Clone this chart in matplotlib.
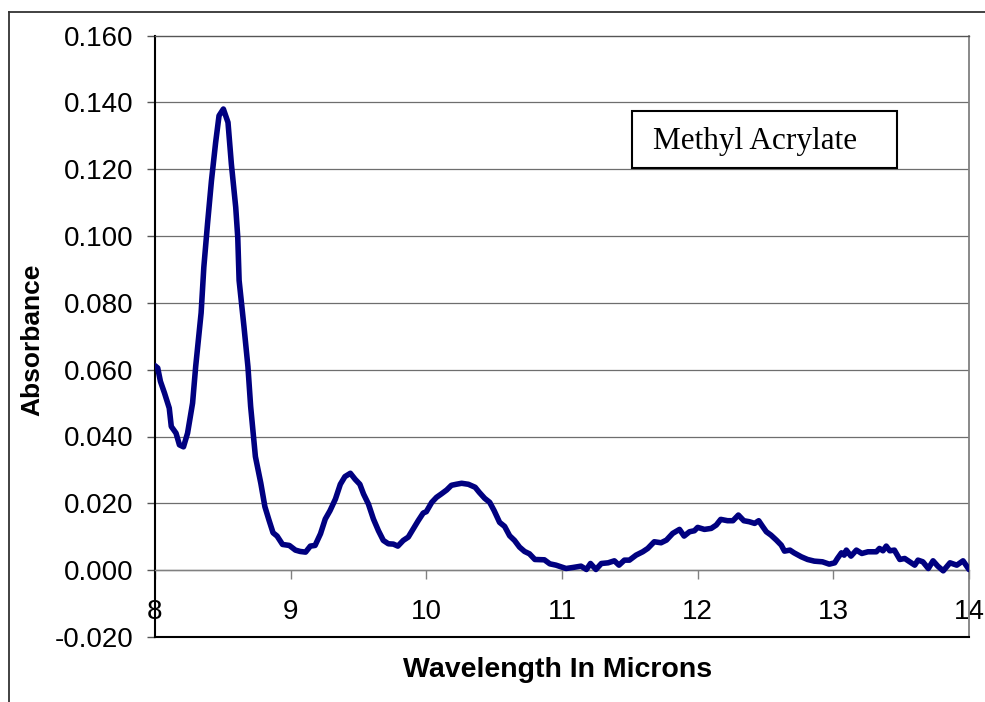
import matplotlib
matplotlib.use("Agg")
import matplotlib.pyplot as plt
from matplotlib.lines import Line2D
from matplotlib.patches import Rectangle

wavelength = [8.00, 8.02, 8.04, 8.07, 8.105, 8.12, 8.155, 8.18, 8.21, 8.24, 8.277, 8.30,
              8.34, 8.36, 8.387, 8.416, 8.447, 8.472, 8.504, 8.538, 8.563, 8.595, 8.61,
              8.62, 8.656, 8.685, 8.705, 8.74, 8.78, 8.81, 8.84, 8.87, 8.90, 8.94, 8.99,
              9.035, 9.07, 9.11, 9.145, 9.18, 9.22, 9.255, 9.29, 9.33, 9.366, 9.40, 9.44,
              9.475, 9.51, 9.537, 9.573, 9.61, 9.647, 9.683, 9.72, 9.757, 9.79, 9.83,
              9.867, 9.904, 9.94, 9.977, 10.0, 10.04, 10.075, 10.11, 10.15, 10.185,
              10.22, 10.26, 10.31, 10.36, 10.39, 10.43, 10.467, 10.50, 10.54, 10.577,
              10.614, 10.65, 10.687, 10.724, 10.76, 10.80, 10.87, 10.91, 10.956, 11.03,
              11.08, 11.14, 11.18, 11.21, 11.25, 11.29, 11.34, 11.386, 11.42, 11.46,
              11.497, 11.546, 11.595, 11.632, 11.68, 11.73, 11.77, 11.816, 11.866, 11.90,
              11.94, 11.976, 12.0, 12.05, 12.10, 12.137, 12.17, 12.22, 12.26, 12.30,
              12.34, 12.38, 12.42, 12.45, 12.48, 12.506, 12.54, 12.58, 12.616, 12.64,
              12.68, 12.71, 12.764, 12.81, 12.86, 12.92, 12.97, 13.01, 13.03, 13.06,
              13.08, 13.096, 13.13, 13.17, 13.21, 13.255, 13.317, 13.34, 13.366, 13.39,
              13.416, 13.45, 13.49, 13.526, 13.563, 13.60, 13.624, 13.66, 13.70, 13.735,
              13.77, 13.81, 13.86, 13.91, 13.956, 14.0]

absorbance = [0.0612, 0.0605, 0.0565, 0.0530, 0.0485, 0.0430, 0.0410, 0.0375, 0.0369, 0.0410,
              0.0500, 0.0610, 0.0770, 0.0907, 0.1036, 0.1165, 0.1280, 0.1360, 0.1380, 0.1340,
              0.1215, 0.1086, 0.0996, 0.0867, 0.0728, 0.0609, 0.0490, 0.0340, 0.0260, 0.0190,
              0.0150, 0.0112, 0.0102, 0.0077, 0.0074, 0.0060, 0.0056, 0.0054, 0.0072, 0.0074,
              0.0109, 0.0153, 0.0178, 0.0213, 0.0257, 0.0280, 0.0290, 0.0272, 0.0257, 0.0228,
              0.0198, 0.0153, 0.0118, 0.0089, 0.0079, 0.0078, 0.0072, 0.0089, 0.0099, 0.0124,
              0.0148, 0.0171, 0.0175, 0.0203, 0.0218, 0.0228, 0.0240, 0.0254, 0.0257, 0.0260,
              0.0257, 0.0248, 0.0233, 0.0215, 0.0203, 0.0178, 0.0143, 0.0131, 0.0103, 0.0089,
              0.0069, 0.0056, 0.0049, 0.0032, 0.0031, 0.0019, 0.0015, 0.0005, 0.0008, 0.0012,
              0.0002, 0.0020, 0.0002, 0.0020, 0.0022, 0.0028, 0.0015, 0.0030, 0.0030, 0.0045,
              0.0055, 0.0065, 0.0085, 0.0082, 0.0090, 0.0110, 0.0122, 0.0102, 0.0115, 0.0118,
              0.0128, 0.0122, 0.0125, 0.0135, 0.0152, 0.0148, 0.0148, 0.0165, 0.0148, 0.0145,
              0.0140, 0.0148, 0.0130, 0.0115, 0.0105, 0.0090, 0.0075, 0.0057, 0.0060, 0.0052,
              0.0040, 0.0032, 0.0027, 0.0025, 0.0018, 0.0022, 0.0035, 0.0052, 0.0045, 0.0060,
              0.0042, 0.0060, 0.0050, 0.0055, 0.0055, 0.0065, 0.0058, 0.0072, 0.0058, 0.0060,
              0.0032, 0.0035, 0.0025, 0.0015, 0.0030, 0.0025, 0.0005, 0.0028, 0.0012, -0.0002,
              0.0022, 0.0015, 0.0028, 0.0002]

x_ticks = [8, 9, 10, 11, 12, 13, 14]
y_ticks = [-0.020, 0.000, 0.020, 0.040, 0.060, 0.080, 0.100, 0.120, 0.140, 0.160]
y_tick_labels = ["-0.020", "0.000", "0.020", "0.040", "0.060", "0.080", "0.100",
                 "0.120", "0.140", "0.160"]
title_text = "Methyl Acrylate"
x_label = "Wavelength In Microns"
y_label = "Absorbance"

W, H = 985, 702
fig = plt.figure(figsize=(W / 100, H / 100), dpi=100)
fig.patch.set_facecolor("white")

left, right, top, bottom = 155, 969, 35.5, 637
ax = fig.add_axes([left / W, 1 - bottom / H, (right - left) / W, (bottom - top) / H])

ax.set_xlim(8, 14)
ax.set_ylim(-0.020, 0.160)

# gridlines
for yv in y_ticks[1:-1]:
    ax.axhline(yv, color="#6e6e6e", lw=0.9, zorder=1)

ax.plot(wavelength, absorbance, color="#000080", lw=4.0, solid_joinstyle="round",
        solid_capstyle="round", zorder=3, clip_on=True)

# spines
ax.spines["left"].set_color("black")
ax.spines["left"].set_linewidth(1.5)
ax.spines["top"].set_color("#555555")
ax.spines["top"].set_linewidth(1.0)
ax.spines["right"].set_color("#808080")
ax.spines["right"].set_linewidth(1.3)
ax.spines["bottom"].set_position(("data", 0))
ax.spines["bottom"].set_color("#808080")
ax.spines["bottom"].set_linewidth(1.0)
ax.axhline(-0.020, color="black", lw=1.5, clip_on=False, zorder=4)

ax.set_xticks(x_ticks)
ax.set_xticklabels([str(v) for v in x_ticks])
ax.set_yticks(y_ticks)
ax.set_yticklabels(y_tick_labels)

ax.tick_params(axis="x", direction="out", length=6.5, width=1.0, color="#808080",
               pad=14.5, labelsize=20, labelcolor="black")
ax.tick_params(axis="y", direction="out", length=5.8, width=1.0, color="#555555",
               pad=9.5, labelsize=20, labelcolor="black")
for lab in ax.get_xticklabels() + ax.get_yticklabels():
    lab.set_fontfamily("Liberation Sans")

# axis titles
fig.text(558 / W, 1 - 670 / H, x_label, ha="center", va="center",
         fontsize=20.5, fontweight="bold", family="Liberation Sans")
fig.text(32 / W, 1 - 340 / H, y_label, ha="center", va="center", rotation=90,
         fontsize=19, fontweight="bold", family="Liberation Sans")

# annotation box
fig.patches.append(Rectangle((632 / W, 1 - 168 / H), 265 / W, 57 / H,
                             transform=fig.transFigure, facecolor="white",
                             edgecolor="black", lw=1.5, zorder=5))
fig.text(755 / W, 1 - 141 / H, title_text, ha="center", va="center",
         fontsize=22.5, family="Liberation Serif", zorder=6)

# outer chart border
fig.lines.append(Line2D([9 / W, 9 / W], [0, 1 - 12 / H], transform=fig.transFigure,
                        color="#333333", lw=1.3))
fig.lines.append(Line2D([9 / W, 1], [1 - 12 / H, 1 - 12 / H], transform=fig.transFigure,
                        color="#333333", lw=1.3))

fig.savefig("out.png", dpi=100)
